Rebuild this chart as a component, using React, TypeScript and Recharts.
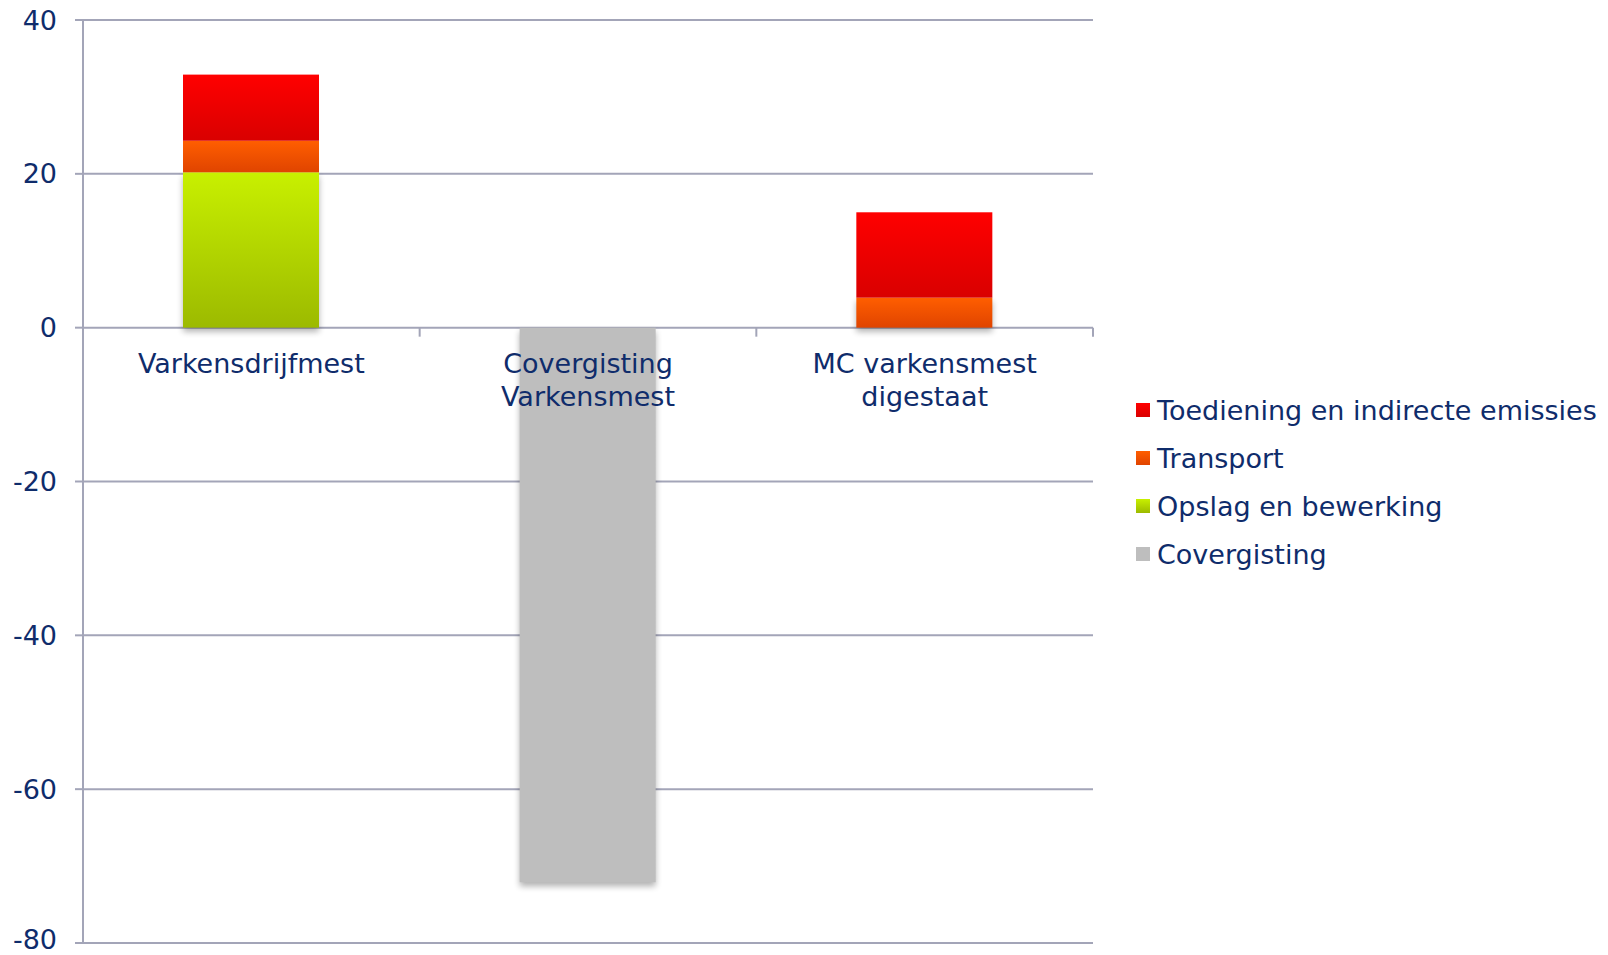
import React from "react";
import { BarChart, Bar, XAxis, YAxis, CartesianGrid } from "recharts";

const CATEGORIES = ["Varkensdrijfmest", "Covergisting\nVarkensmest", "MC varkensmest\ndigestaat"];
const OPSLAG = [20.2, 0, 0];
const TRANSPORT = [4.1, 0, 3.9];
const TOEDIENING = [8.6, 0, 11.1];
const COVERGISTING = [0, -72.1, 0];
const Y_TICKS = [40, 20, 0, -20, -40, -60, -80];
const Y_MIN = -80;
const Y_MAX = 40;

const SERIES = [
  { key: "toediening", name: "Toediening en indirecte emissies", grad: "gRed" },
  { key: "transport", name: "Transport", grad: "gOrange" },
  { key: "opslag", name: "Opslag en bewerking", grad: "gGreen" },
  { key: "covergisting", name: "Covergisting", grad: "gGray" },
];

const data = CATEGORIES.map((c, i) => ({
  name: c,
  opslag: OPSLAG[i],
  transport: TRANSPORT[i],
  toediening: TOEDIENING[i],
  covergisting: COVERGISTING[i],
}));

const W = 1608;
const H = 955;
const MARGIN = { top: 20, right: 515, bottom: 11, left: 0 };
const Y_AXIS_W = 83;
const X_AXIS_H = 1;
const PLOT_W = W - MARGIN.left - MARGIN.right - Y_AXIS_W;
const PLOT_H = H - MARGIN.top - MARGIN.bottom - X_AXIS_H;
const ZERO_Y = MARGIN.top + ((Y_MAX - 0) / (Y_MAX - Y_MIN)) * PLOT_H;
const BAND = PLOT_W / CATEGORIES.length;

const TEXT = "#0f2c6b";
const GRID = "#a3a5b8";
const FONT = "'DejaVu Sans', Verdana, sans-serif";
const FS = 27;

const XTick = (props: any) => {
  const { x, payload } = props;
  const lines = String(payload.value).split("\n");
  return (
    <g>
      <line x1={x + BAND / 2} x2={x + BAND / 2} y1={ZERO_Y} y2={ZERO_Y + 9} stroke={GRID} strokeWidth={2} />
      {lines.map((l, i) => (
        <text key={i} x={x} y={ZERO_Y + 45 + i * 33} textAnchor="middle" fill={TEXT} fontSize={FS} fontFamily={FONT}>
          {l}
        </text>
      ))}
    </g>
  );
};

const isLowest: Record<string, (p: any) => boolean> = {
  opslag: () => true,
  transport: (p) => !p.opslag,
  toediening: (p) => !p.opslag && !p.transport,
  covergisting: () => true,
};

const makeShape = (key: string, grad: string) => (props: any) => {
  const { x, y, width, height, payload } = props;
  if (!height) return <g />;
  const top = height < 0 ? y + height : y;
  const h = Math.abs(height);
  return (
    <g>
      {isLowest[key](payload) && (
        <rect x={x} y={top + 4} width={width} height={h} fill="#000" opacity={0.3} filter="url(#blurShadow)" />
      )}
      <rect x={x} y={top} width={width} height={h} fill={`url(#${grad})`} />
    </g>
  );
};

const legendSwatch: Record<string, string> = {
  gRed: "linear-gradient(#ff0000, #d90000)",
  gOrange: "linear-gradient(#ff5e00, #e04400)",
  gGreen: "linear-gradient(#c8f000, #9cba00)",
  gGray: "#bebebe",
};

export default function App() {
  return (
    <div style={{ position: "absolute", left: 0, top: 0, width: W, height: H, background: "#fff" }}>
      <BarChart width={W} height={H} data={data} margin={MARGIN} stackOffset="sign">
        <defs>
          <linearGradient id="gRed" x1="0" y1="0" x2="0" y2="1">
            <stop offset="0%" stopColor="#ff0000" />
            <stop offset="100%" stopColor="#d90000" />
          </linearGradient>
          <linearGradient id="gOrange" x1="0" y1="0" x2="0" y2="1">
            <stop offset="0%" stopColor="#ff5e00" />
            <stop offset="100%" stopColor="#e04400" />
          </linearGradient>
          <linearGradient id="gGreen" x1="0" y1="0" x2="0" y2="1">
            <stop offset="0%" stopColor="#c8f000" />
            <stop offset="100%" stopColor="#9cba00" />
          </linearGradient>
          <linearGradient id="gGray" x1="0" y1="0" x2="0" y2="1">
            <stop offset="0%" stopColor="#bebebe" />
            <stop offset="100%" stopColor="#bebebe" />
          </linearGradient>
          <filter id="blurShadow" x="-20%" y="-20%" width="140%" height="140%">
            <feGaussianBlur stdDeviation="3" />
          </filter>
        </defs>
        <CartesianGrid vertical={false} stroke={GRID} strokeWidth={2} />
        <YAxis
          width={Y_AXIS_W}
          domain={[Y_MIN, Y_MAX]}
          ticks={Y_TICKS}
          type="number"
          axisLine={{ stroke: GRID, strokeWidth: 2 }}
          tickLine={{ stroke: GRID, strokeWidth: 2 }}
          tickSize={8}
          tickMargin={18}
          tick={{ fill: TEXT, fontSize: FS, fontFamily: FONT }}
        />
        <Bar dataKey="opslag" stackId="a" barSize={136} isAnimationActive={false} shape={makeShape("opslag", "gGreen")} />
        <Bar dataKey="transport" stackId="a" barSize={136} isAnimationActive={false} shape={makeShape("transport", "gOrange")} />
        <Bar dataKey="toediening" stackId="a" barSize={136} isAnimationActive={false} shape={makeShape("toediening", "gRed")} />
        <Bar dataKey="covergisting" stackId="a" barSize={136} isAnimationActive={false} shape={makeShape("covergisting", "gGray")} />
        <XAxis dataKey="name" height={X_AXIS_H} axisLine={false} tickLine={false} tick={<XTick />} interval={0} />
      </BarChart>
      <div style={{ position: "absolute", left: 1136, top: 386, fontFamily: FONT, fontSize: FS, color: TEXT }}>
        {SERIES.map((s) => (
          <div key={s.key} style={{ height: 48, display: "flex", alignItems: "center", whiteSpace: "nowrap" }}>
            <span style={{ display: "inline-block", width: 14, height: 14, background: legendSwatch[s.grad], marginRight: 7 }} />
            <span>{s.name}</span>
          </div>
        ))}
      </div>
    </div>
  );
}
